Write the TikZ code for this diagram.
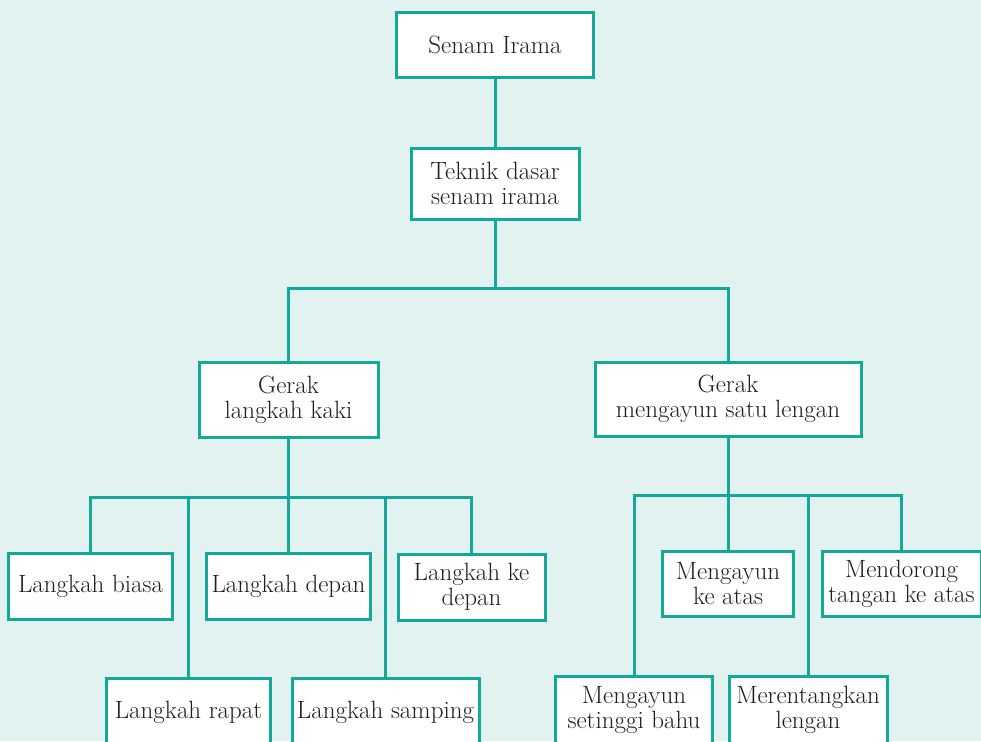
\documentclass[tikz,border=0pt]{standalone}
\usepackage{xcolor}
\definecolor{teal1}{HTML}{12A99B}
\definecolor{bgc}{HTML}{E1F2F0}
\definecolor{txt}{HTML}{1E1E1E}
\begin{document}
\begin{tikzpicture}[x=1pt,y=-1pt,
  box/.style={draw=teal1, line width=3pt, fill=white, inner sep=0pt, align=center,
    text=txt, font=\fontsize{25}{25}\selectfont},
  conn/.style={draw=teal1, line width=3pt}]
\useasboundingbox (0,0) rectangle (981,741);
\fill[bgc] (0,0) rectangle (981,741);
\clip (0,0) rectangle (981,741);
% nodes
\node[box, minimum width=197pt, minimum height=65pt] (top) at (495,45) {Senam Irama};
\node[box, minimum width=168pt, minimum height=71pt] (tek) at (495,183.5) {Teknik dasar\\senam irama};
\node[box, minimum width=179pt, minimum height=75pt] (g1) at (288.5,399.5) {Gerak\\langkah kaki};
\node[box, minimum width=266pt, minimum height=74pt] (g2) at (728,399) {Gerak\\mengayun satu lengan};
\node[box, minimum width=164pt, minimum height=66pt] (lb) at (90.5,586) {Langkah biasa};
\node[box, minimum width=164pt, minimum height=66pt] (ld) at (288.5,586) {Langkah depan};
\node[box, minimum width=147pt, minimum height=66pt] (lk) at (471.5,587) {Langkah ke\\depan};
\node[box, minimum width=164pt, minimum height=68pt] (lr) at (188.5,712) {Langkah rapat};
\node[box, minimum width=187pt, minimum height=68pt] (ls) at (385.5,712) {Langkah samping};
\node[box, minimum width=131pt, minimum height=65pt] (ma) at (728,583.5) {Mengayun\\ke atas};
\node[box, minimum width=159pt, minimum height=65pt] (md) at (901.5,583.5) {Mendorong\\tangan ke atas};
\node[box, minimum width=157pt, minimum height=68pt] (ms) at (634,710) {Mengayun\\setinggi bahu};
\node[box, minimum width=158pt, minimum height=68pt] (mr) at (808,710) {Merentangkan\\lengan};
% buses
\coordinate (b1) at (495,288);
\coordinate (b2) at (288.5,497);
\coordinate (b3) at (728,495);
% connectors
\draw[conn] (top.south) -- (tek.north);
\draw[conn] (tek.south) -- (b1);
\draw[conn] (g1.north) |- (b1) -| (g2.north);
\draw[conn] (g1.south) -- (b2);
\draw[conn] (lb.north) |- (b2) -| (lk.north);
\draw[conn] (b2) -- (ld.north);
\draw[conn] (lr.north) -- (lr.north |- b2);
\draw[conn] (ls.north) -- (ls.north |- b2);
\draw[conn] (g2.south) -- (b3);
\draw[conn] (ms.north) |- (b3) -| (md.north);
\draw[conn] (b3) -- (ma.north);
\draw[conn] (mr.north) -- (mr.north |- b3);
\end{tikzpicture}
\end{document}
